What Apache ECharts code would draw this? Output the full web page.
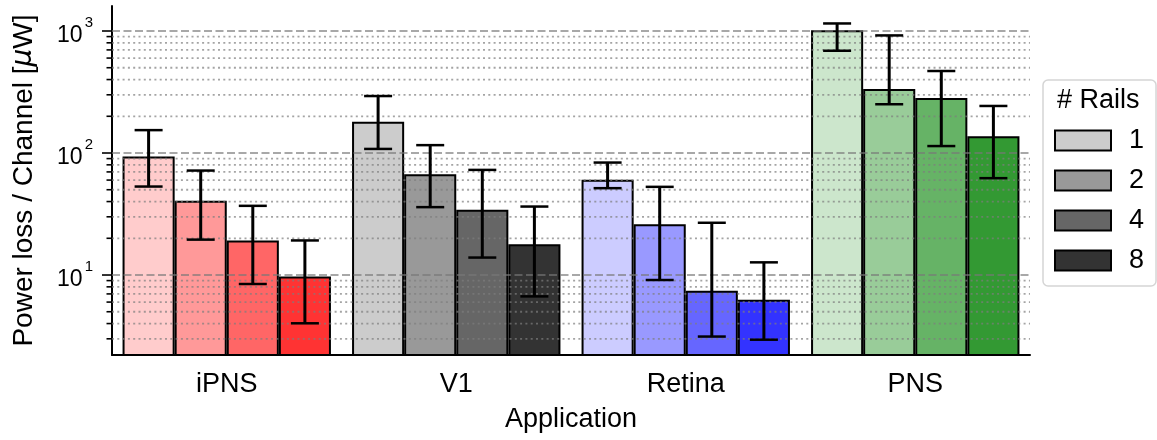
<!DOCTYPE html>
<html>
<head>
<meta charset="utf-8">
<script src="https://cdn.jsdelivr.net/npm/echarts@6/dist/echarts.min.js"></script>
<style>
html, body { margin: 0; padding: 0; background: #fff; }
#main { width: 1157px; height: 440px; }
</style>
</head>
<body>
<div id="main"></div>
<script>
// 应用 (x 轴)
const categories = ['iPNS', 'V1', 'Retina', 'PNS'];
// # Rails
const rails = ['1', '2', '4', '8'];

// 柱高 (µW)
const rail1 = [93.5, 180, 60.3, 1016];
const rail2 = [40.7, 67.1, 26.1, 335];
const rail4 = [19.2, 34.2, 7.44, 282];
const rail8 = [9.74, 17.9, 6.28, 137];

// 误差棒上下限
const low1 = [53.1, 108, 51.5, 689];
const high1 = [154, 293, 83.5, 1153];
const low2 = [19.5, 36.0, 9.1, 251];
const high2 = [71.8, 116, 52.8, 920];
const low4 = [8.44, 13.9, 3.13, 114];
const high4 = [36.9, 72.7, 26.8, 470];
const low8 = [4.02, 6.68, 2.95, 62.2];
const high8 = [19.2, 36.4, 12.7, 243];

// y 轴刻度
const majorTicks = [10, 100, 1000];
const minorTicks = [3, 4, 5, 6, 7, 8, 9, 20, 30, 40, 50, 60, 70, 80, 90, 200, 300, 400, 500, 600, 700, 800, 900];

const values = [rail1, rail2, rail4, rail8];
const lows = [low1, low2, low4, low8];
const highs = [high1, high2, high4, high8];

// 颜色: 每个应用一组, 深浅对应 rails
const palettes = [
        ['#ffcccc', '#ff9999', '#ff6666', '#ff3333'],
        ['#cccccc', '#999999', '#666666', '#333333'],
        ['#ccccff', '#9999ff', '#6666ff', '#3333ff'],
        ['#cce6cc', '#99cc99', '#66b366', '#339933']
];
const grays = palettes[1];
const FONT = '"Liberation Sans", Arial, sans-serif';
const BAR_FRAC = 0.227;

let chart = echarts.init(document.getElementById('main'), null, { renderer: 'canvas' });

// 网格线 + y 轴刻度
const renderGrid = (params, api) => {
        const cs = params.coordSys;
        const y = api.coord([0, api.value(1)])[1];
        const major = api.value(2) === 1;
        return {
                type: 'group',
                children: [{
                        type: 'line',
                        shape: { x1: cs.x, y1: y, x2: cs.x + cs.width, y2: y },
                        style: major ? {
                                stroke: 'rgba(120,120,120,0.85)',
                                lineWidth: 1.6,
                                lineDash: [8, 3.5]
                        } : {
                                stroke: 'rgba(125,125,125,0.7)',
                                lineWidth: 1.8,
                                lineDash: [2, 3.3]
                        }
                }, {
                        type: 'line',
                        shape: { x1: cs.x - (major ? 10 : 5.5), y1: y, x2: cs.x, y2: y },
                        style: { stroke: '#000', lineWidth: 1.6 }
                }]
        };
}

// 误差棒
const renderErr = (params, api) => {
        const cs = params.coordSys;
        const cat = api.value(0);
        const k = api.value(1);
        const band = cs.width / categories.length;
        const pLow = api.coord([cat, api.value(2)]);
        const pHigh = api.coord([cat, api.value(3)]);
        const x = pLow[0] + (k - 1.5) * band * BAR_FRAC;
        const cap = 14;
        const capStyle = { stroke: '#000', lineWidth: 2.5 };
        return {
                type: 'group',
                children: [
                        { type: 'line', shape: { x1: x, y1: pLow[1], x2: x, y2: pHigh[1] }, style: { stroke: '#000', lineWidth: 3 } },
                        { type: 'line', shape: { x1: x - cap, y1: pLow[1], x2: x + cap, y2: pLow[1] }, style: capStyle },
                        { type: 'line', shape: { x1: x - cap, y1: pHigh[1], x2: x + cap, y2: pHigh[1] }, style: capStyle }
                ]
        };
}

const gridData = majorTicks.map(v => [0, v, 1]).concat(minorTicks.map(v => [0, v, 0]));
const errData = [];
rails.forEach((r, k) => {
        categories.forEach((c, i) => {
                errData.push([i, k, lows[k][i], highs[k][i]]);
        });
});

const barSeries = rails.map((r, k) => ({
        name: r,
        type: 'bar',
        barWidth: '22.7%',
        barGap: '0%',
        z: 2,
        clip: true,
        itemStyle: { color: grays[k], borderColor: '#000', borderWidth: 2 },
        data: values[k].map((v, i) => ({ value: v, itemStyle: { color: palettes[i][k] } }))
}));

let option = {
        animation: false,
        textStyle: { fontFamily: FONT, color: '#000' },
        grid: { left: 112, right: 127, top: 6, bottom: 85 },
        title: {
                text: '# Rails',
                left: 1057,
                top: 87,
                padding: 0,
                z: 10,
                textStyle: { fontSize: 27, fontWeight: 'normal', color: '#000', fontFamily: FONT }
        },
        legend: {
                data: rails,
                orient: 'vertical',
                left: 1043,
                top: 80,
                padding: [47, 12, 12, 11],
                itemWidth: 56,
                itemHeight: 20,
                itemGap: 13,
                icon: 'rect',
                itemStyle: { borderColor: '#000', borderWidth: 2 },
                textStyle: { fontSize: 27, color: '#000', fontFamily: FONT, padding: [0, 0, 0, 13], lineHeight: 26 },
                borderColor: '#d5d5d5',
                borderWidth: 1.5,
                borderRadius: 5,
                backgroundColor: '#fff'
        },
        xAxis: {
                type: 'category',
                data: categories,
                axisLine: { lineStyle: { color: '#000', width: 2 } },
                axisTick: { alignWithLabel: true, length: 10, lineStyle: { color: '#000', width: 2 } },
                axisLabel: { fontSize: 27, color: '#000', margin: 16, fontFamily: FONT },
                splitLine: { show: false },
                name: 'Application',
                nameLocation: 'middle',
                nameGap: 51,
                nameTextStyle: { fontSize: 27, color: '#000', fontFamily: FONT }
        },
        yAxis: {
                type: 'log',
                logBase: 10,
                min: 2.21,
                max: 1603,
                axisLine: { show: true, lineStyle: { color: '#000', width: 2 } },
                axisTick: { show: false },
                splitLine: { show: false },
                minorTick: { show: false },
                axisLabel: {
                        margin: 19,
                        formatter: (v) => {
                                const e = Math.log10(v);
                                const r = Math.round(e);
                                if (Math.abs(e - r) > 1e-6) return '';
                                return '{b|10}{s|' + r + '}';
                        },
                        rich: {
                                b: { fontSize: 23, lineHeight: 23, padding: [10, 0, 0, 0], color: '#000', fontFamily: FONT },
                                s: { fontSize: 15, lineHeight: 15, padding: [0, 0, 16, 2], color: '#000', fontFamily: FONT }
                        }
                },
                name: 'Power loss / Channel [{i|μ}W]',
                nameLocation: 'middle',
                nameGap: 74,
                nameTextStyle: {
                        fontSize: 28, color: '#000', fontFamily: FONT,
                        rich: { i: { fontSize: 28, fontStyle: 'italic', fontFamily: '"DejaVu Sans", sans-serif', color: '#000' } }
                }
        },
        series: barSeries.concat([{
                name: 'grid',
                type: 'custom',
                z: 3,
                silent: true,
                renderItem: renderGrid,
                encode: { x: 0, y: 1 },
                data: gridData
        }, {
                name: 'err',
                type: 'custom',
                z: 5,
                silent: true,
                renderItem: renderErr,
                encode: { x: 0, y: [2, 3] },
                data: errData
        }])
};

chart.setOption(option);
</script>
</body>
</html>
